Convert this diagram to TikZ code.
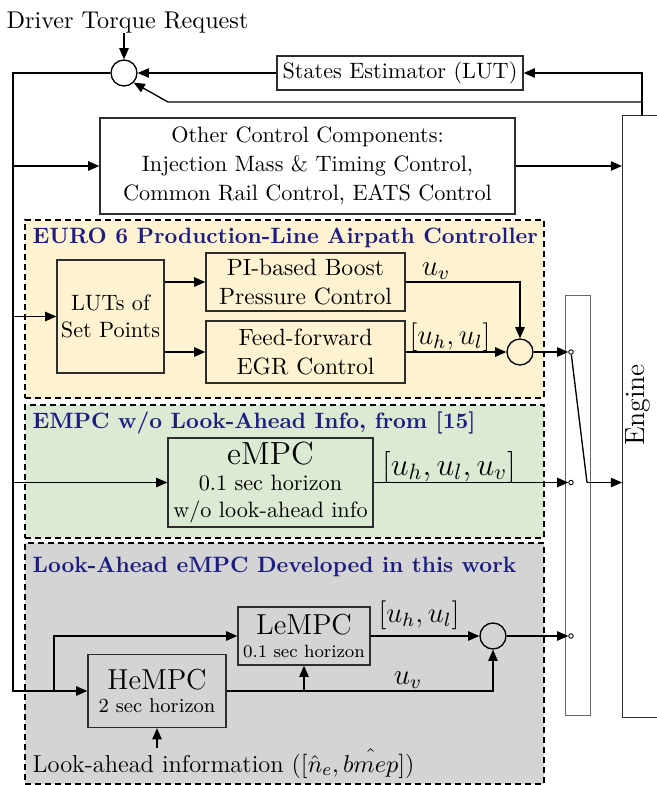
\documentclass[tikz,border=0pt]{standalone}
\usetikzlibrary{arrows.meta}
\newcommand\pxu{0.45pt}
\definecolor{titleblue}{RGB}{28,28,130}
\definecolor{yfill}{RGB}{255,243,210}
\definecolor{gfill}{RGB}{220,234,212}
\definecolor{grfill}{RGB}{212,212,212}
\definecolor{boxline}{RGB}{45,45,45}
\begin{document}
\begin{tikzpicture}[x=0.45pt,y=-0.45pt,
  >={Triangle[length=5pt,width=4.2pt]},
  line width=0.6pt,
  blk/.style={draw=boxline, line width=0.6pt, align=center, inner sep=0pt, font=\fontsize{10}{12.5}\selectfont},
  sumc/.style={draw, circle, minimum size=26*\pxu, inner sep=0pt},
  region/.style={draw, line width=1.1pt, dash pattern=on 2.7pt off 1.8pt, anchor=north west, inner sep=0pt},
  rtitle/.style={anchor=base west, text=titleblue, font=\bfseries\fontsize{10}{12}\selectfont, inner sep=0pt},
  lbl/.style={inner sep=0pt, font=\fontsize{12}{14}\selectfont},
  swc/.style={circle, draw, fill=white, minimum size=4.5*\pxu, inner sep=0pt, line width=0.4pt},
]
\useasboundingbox (0,0) rectangle (657,785);
\clip (0,0) rectangle (657,785);

% regions
\node[region, fill=yfill, minimum width=519*\pxu, minimum height=178*\pxu] (yreg) at (24,219) {};
\node[region, fill=gfill, minimum width=519*\pxu, minimum height=133*\pxu] (greg) at (24,404) {};
\node[region, fill=grfill, minimum width=519*\pxu, minimum height=241*\pxu] (rreg) at (24,542) {};
\node[rtitle] (t1) at (32,243) {EURO 6 Production-Line Airpath Controller};
\node[rtitle] (t2) at (32,428) {EMPC w/o Look-Ahead Info, from [15]};
\node[rtitle] (t3) at (32,572) {Look-Ahead eMPC Developed in this work};

% top part
\node[font=\fontsize{10.9}{13}\selectfont, anchor=base, inner sep=0pt] (drv) at (127.5,28) {Driver Torque Request};
\node[sumc] (s1) at (124,73) {};
\node[blk, fill=white, minimum width=246*\pxu, minimum height=34*\pxu] (st) at (400,73) {States Estimator (LUT)};
\node[blk, fill=white, minimum width=415*\pxu, minimum height=96*\pxu, font=\fontsize{10}{13}\selectfont] (oth) at (307.5,166) {Other Control Components:\\ Injection Mass \& Timing Control,\\ Common Rail Control, EATS Control};

% engine and switch
\node[draw=boxline, minimum width=60*\pxu, minimum height=602*\pxu, anchor=north west, inner sep=0pt] (eng) at (622,115) {};
\node[rotate=90, inner sep=0pt, font=\fontsize{12.5}{14}\selectfont] (engt) at (638,405) {Engine};
\node[draw=black!60, minimum width=25*\pxu, minimum height=420*\pxu, anchor=north west, inner sep=0pt] (swb) at (565,295) {};

% yellow block
\node[blk, minimum width=107*\pxu, minimum height=113*\pxu] (lut) at (110.5,316.5) {LUTs of\\Set Points};
\node[blk, minimum width=199*\pxu, minimum height=58*\pxu, font=\fontsize{10.6}{12.8}\selectfont] (pi) at (305.5,282) {PI-based Boost\\Pressure Control};
\node[blk, minimum width=199*\pxu, minimum height=62*\pxu, font=\fontsize{10.6}{12.8}\selectfont] (ff) at (305.5,352) {Feed-forward\\EGR Control};
\node[sumc] (s2) at (520,352) {};
\node[lbl] (luv1) at (436,271) {\scalebox{1.1}{$u_v$}};
\node[lbl] (luh1) at (450,337) {\scalebox{1.08}{$[u_h, u_l]$}};

% green block
\node[blk, minimum width=205*\pxu, minimum height=89*\pxu, font=\fontsize{10}{11.8}\selectfont] (em) at (270.5,482.5) {{\fontsize{14.4}{16}\selectfont eMPC}\\0.1 sec horizon\\w/o look-ahead info};
\node[lbl, font=\fontsize{14.4}{16}\selectfont] (luem) at (449,467) {$[u_h, u_l, u_v]$};

% gray block
\node[blk, minimum width=132*\pxu, minimum height=58*\pxu, font=\fontsize{8}{10}\selectfont] (le) at (304,636) {{\fontsize{13}{15}\selectfont LeMPC}\\0.1 sec horizon};
\node[blk, minimum width=138*\pxu, minimum height=73*\pxu, font=\fontsize{9}{10.5}\selectfont] (he) at (157,691) {{\fontsize{13}{15}\selectfont HeMPC}\\2 sec horizon};
\node[sumc] (s3) at (493,636) {};
\node[lbl] (luh3) at (419,615) {\scalebox{1.08}{$[u_h, u_l]$}};
\node[lbl] (luv3) at (408,680) {\scalebox{1.1}{$u_v$}};
\node[anchor=base west, inner sep=0pt, font=\fontsize{11}{13}\selectfont] (la) at (32,772) {Look-ahead information ($[\hat{n}_e, \hat{bmep}]$)};

% switch contacts
\node[swc] (c1) at (571,352) {};
\node[swc] (c2) at (571,482.5) {};
\node[swc] (c3) at (571,636) {};
\coordinate (lev) at (587,482.5);

% coordinates for loops
\coordinate (lt) at (13,73);
\coordinate (lb) at (13,691);
\coordinate (br) at (54,691);
\coordinate (fb) at (642,115);
\coordinate (fb2) at (642,102);
\coordinate (fbk) at (168,102);

% top connectors
\draw[->] (drv.south -| s1.north) -- (s1.north);
\draw[->] (st.west) -- (s1.east);
\draw[->] (fb) |- (st.east);
\draw[->] (fb2) -- (fbk) -- (s1.south east);
\draw[->] (s1.west) -- (lt) -- (lb) -- (he.west);
\draw[->] (lt |- oth.west) -- (oth.west);
\draw[->] (oth.east) -- (oth.east -| eng.west);

% yellow connectors
\draw[->] (lt |- lut.west) -- (lut.west);
\draw[->] (lut.east |- pi.west) -- (pi.west);
\draw[->] (lut.east |- ff.west) -- (ff.west);
\draw[->] (pi.east) -| (s2.north);
\draw[->] (ff.east) -- (s2.west);
\draw[->] (s2.east) -- (c1.west);

% green connectors
\draw[->] (lt |- em.west) -- (em.west);
\draw[->] (em.east) -- (c2.west);

% gray connectors
\draw[->] (br) |- (le.west);
\draw[->] (he.east) -| (s3.south);
\draw[->] (he.east -| le.south) -- (le.south);
\draw[->] (le.east) -- (s3.west);
\draw[->] (s3.east) -- (c3.west);
\draw[->] (la.north -| he.south) -- (he.south);

% switch lever
\draw (c1) -- (lev);
\draw[->] (lev) -- (lev -| eng.west);
\end{tikzpicture}
\end{document}
